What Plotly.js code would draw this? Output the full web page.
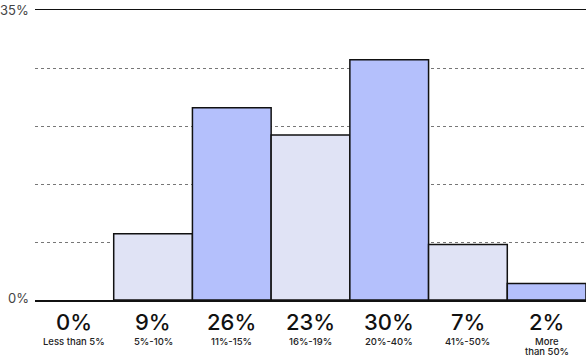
<!DOCTYPE html>
<html>
<head>
<meta charset="utf-8">
<script src="https://cdn.plot.ly/plotly-3.0.1.min.js"></script>
<style>html,body{margin:0;padding:0;background:#fff;}#chart{width:587px;height:359px;}</style>
</head>
<body>
<div id="chart"></div>
<script>
// Data
const categories = ["Less than 5%", "5%-10%", "11%-15%", "16%-19%", "20%-40%", "41%-50%", "More<br>than 50%"];
const valueLabels = ["0%", "9%", "26%", "23%", "30%", "7%", "2%"];
const barHeights = [0, 8, 23.2, 19.9, 29, 6.7, 2];
const yTickVals = [0, 7, 14, 21, 28, 35];
const yTickText = ["0%", "", "", "", "", "35%"];

const xs = categories.map((c, i) => i);
const colors = xs.map(i => (i % 2 === 0 ? "#b4c0fc" : "#e0e3f5"));
const lineWidths = barHeights.map(v => (v > 0 ? 1.5 : 0));

const trace = {
  type: "bar",
  x: xs,
  y: barHeights,
  width: 1,
  marker: { color: colors, line: { color: "#111", width: lineWidths } },
  hoverinfo: "none"
};

const annotations = [];
xs.forEach((x, i) => {
  annotations.push({
    x: x, xref: "x", y: 0, yref: "paper",
    text: valueLabels[i], showarrow: false,
    yanchor: "middle", yshift: -22,
    font: { family: "Inter", size: 22, color: "#111", weight: 500 }
  });
  categories[i].split("<br>").forEach((line, j) => {
    annotations.push({
      x: x, xref: "x", y: 0, yref: "paper",
      text: line, showarrow: false,
      yanchor: "middle", yshift: -41 - j * 10.5,
      font: { family: "Inter", size: 9.5, color: "#222", weight: 500 }
    });
  });
});
// y tick labels as annotations (for exact placement)
yTickVals.forEach((v, i) => {
  if (!yTickText[i]) return;
  annotations.push({
    x: 0, xref: "paper", y: v, yref: "y",
    text: yTickText[i], showarrow: false,
    xanchor: "right", yanchor: "middle", xshift: -4, yshift: v === 0 ? 2 : 0,
    font: { family: "Inter", size: 13, color: "#444" }
  });
});

const layout = {
  width: 587, height: 359,
  margin: { l: 35, r: 1, t: 10, b: 59, pad: 0 },
  paper_bgcolor: "#fff", plot_bgcolor: "#fff",
  showlegend: false,
  bargap: 0,
  font: { family: "Inter", color: "#333" },
  xaxis: {
    range: [-0.5, 6.5], showticklabels: false, ticks: "",
    showgrid: false, zeroline: false, showline: true, mirror: true,
    linecolor: "#111", linewidth: 1.5, fixedrange: true
  },
  yaxis: {
    range: [0, 35], tickvals: yTickVals, showticklabels: false,
    ticks: "", showgrid: true, gridcolor: "#777", gridwidth: 1, griddash: "dot",
    zeroline: false, showline: false, fixedrange: true
  },
  annotations: annotations
};

Plotly.newPlot("chart", [trace], layout, { displayModeBar: false, staticPlot: true });
</script>
</body>
</html>
